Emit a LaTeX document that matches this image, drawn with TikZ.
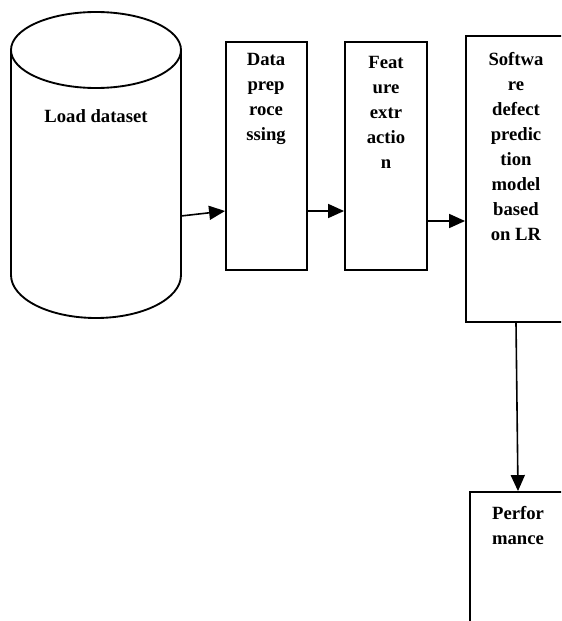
\documentclass[tikz,border=0pt]{standalone}
\usepackage{fontspec}
\setmainfont{Liberation Serif}
\usetikzlibrary{arrows.meta}
\begin{document}
\begin{tikzpicture}[x=0.75pt,y=-0.75pt,
  box/.style={draw, line width=1.4pt, inner sep=0pt},
  txt/.style={font=\fontsize{14}{18.75}\selectfont\bfseries, align=center, inner sep=0pt, anchor=north},
  conn/.style={line width=1.2pt, -{Triangle[length=12pt,width=10.5pt]}}]
\useasboundingbox (0,0) rectangle (561,621);
\clip (0,0) rectangle (561,621);
\fill[white] (0,0) rectangle (561,621);
% cylinder
\draw[line width=1.4pt] (96,50) ellipse [x radius=63.75pt, y radius=28.5pt];
\draw[line width=1.4pt] (11,50) -- (11,275) arc[start angle=180, end angle=360, x radius=63.75pt, y radius=32.25pt] -- (181,50);
\node[txt, anchor=center] (ds) at (96,116) {Load dataset};
\coordinate (dsout) at (181,216);
% boxes
\node[box, minimum width=60.75pt, minimum height=171pt] (pre) at (266.5,156) {};
\node[box, minimum width=61.5pt, minimum height=171pt] (feat) at (386,156) {};
\node[box, minimum width=75pt, minimum height=214.5pt] (sw) at (516,179) {};
\node[box, minimum width=72pt, minimum height=111pt] (perf) at (518,566) {};
% texts
\node[txt] (pret) at (266,53) {Data\\prep\\roce\\ssing};
\node[txt] (featt) at (386,56) {Feat\\ure\\extr\\actio\\n};
\node[txt] (swt) at (516,52) {Softwa\\re\\defect\\predic\\tion\\model\\based\\on LR};
\node[txt] (perft) at (518,506) {Perfor\\mance};
% connectors
\draw[conn] (dsout) -- ([yshift=-41.25pt]pre.west);
\draw[conn] ([yshift=-41.25pt]pre.east) -- ([yshift=-41.25pt]feat.west);
\draw[conn] ([yshift=-48.75pt]feat.east) -- ([yshift=-31.5pt]sw.west);
\draw[conn] (sw.south) -- (perf.north);
\end{tikzpicture}
\end{document}
